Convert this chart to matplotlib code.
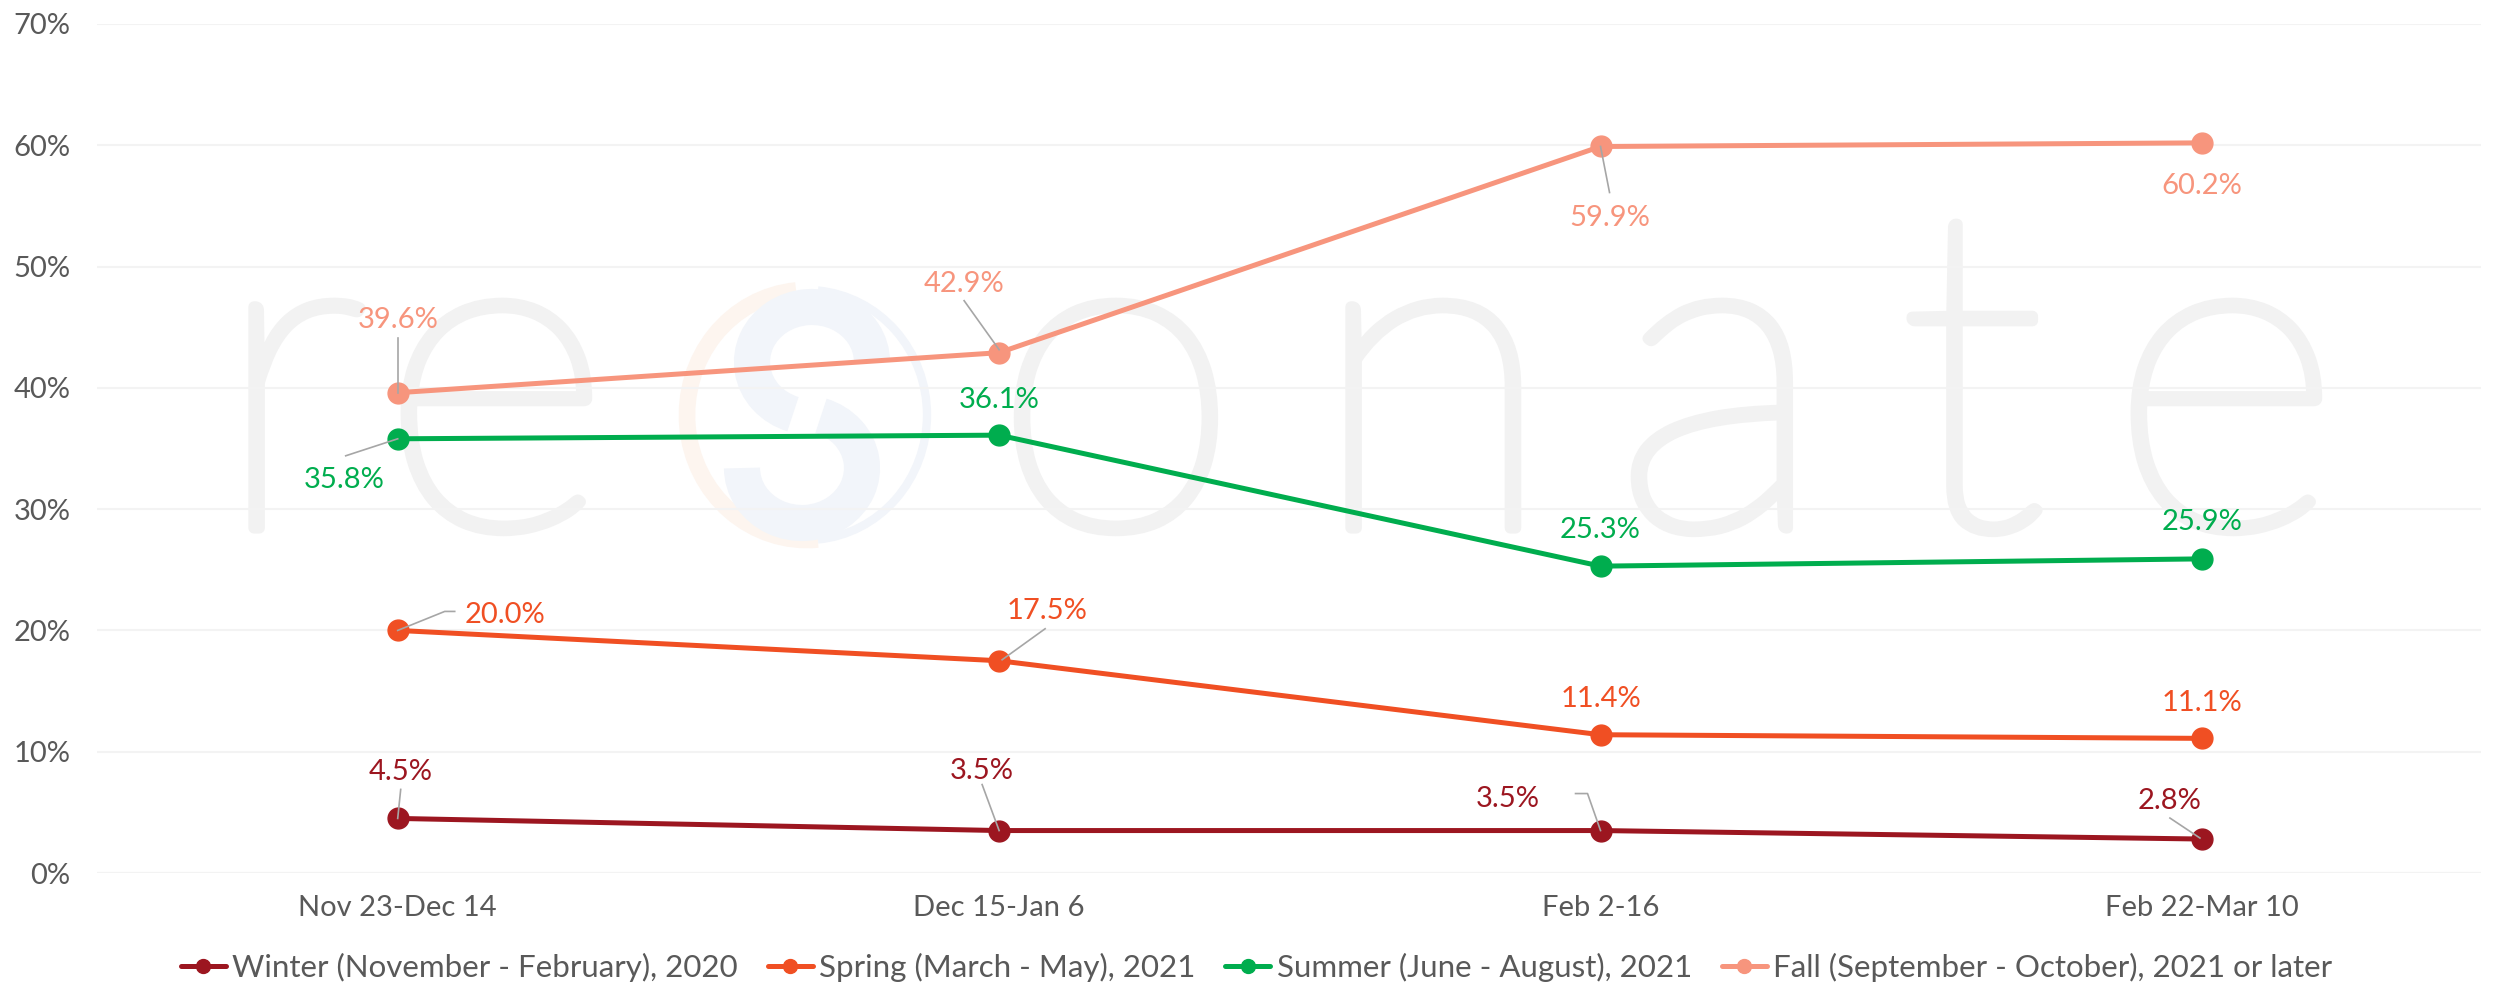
import matplotlib
matplotlib.use("Agg")
import matplotlib.pyplot as plt
import matplotlib.patheffects as pe
from matplotlib.lines import Line2D
from matplotlib.patches import Arc
from matplotlib.transforms import IdentityTransform

# ---------------- data ----------------
categories = ["Nov 23-Dec 14", "Dec 15-Jan 6", "Feb 2-16", "Feb 22-Mar 10"]
series_names = ["Winter (November - February), 2020",
                "Spring (March - May), 2021",
                "Summer (June - August), 2021",
                "Fall (September - October), 2021 or later"]
winter = [4.5, 3.5, 3.5, 2.8]
spring = [20.0, 17.5, 11.4, 11.1]
summer = [35.8, 36.1, 25.3, 25.9]
fall = [39.6, 42.9, 59.9, 60.2]
y_ticks = [0, 10, 20, 30, 40, 50, 60, 70]

# ---------------- styling ----------------
colors = ["#9c1620", "#f04f23", "#00ad4e", "#f7957d"]
# label centre offsets (px, y up) and leader polylines (px offsets from point)
label_offsets = [
    [(3, 49), (-17, 62), (-93, 34), (-32, 41)],
    [(107, 18), (48, 52), (0, 38), (0, 38)],
    [(-54, -39), (0, 38), (0, 39), (0, 39)],
    [(0, 75), (-35, 71), (9, -69), (0, -41)],
]
leaders = [
    [[(3, 29), (0, 0)], [(-17, 46), (0, 0)], [(-25, 37), (-13, 37), (0, 0)], [(-32, 21), (-2, 1)]],
    [[(0, 0), (47, 19), (57, 19)], [(46, 32), (3, 1)], None, None],
    [[(-52, -17), (0, 0)], None, None, None],
    [[(0, 55), (0, 0)], [(-35, 52), (0, 3)], [(0, 0), (9, -46)], None],
]

W, H, DPI = 2513, 982, 100
plt.rcParams["font.family"] = ["Lato", "DejaVu Sans"]
TXT = "#595959"

fig = plt.figure(figsize=(W / DPI, H / DPI), dpi=DPI)
fig.patch.set_facecolor("white")


def fx(px):
    return px / W


def fy(py):
    return 1 - py / H


# ---------------- watermark ----------------
WM = "#f2f2f2"
wm_fx = [pe.withStroke(linewidth=8, foreground=WM)]
for ch, cx in zip("re", [290, 495]):
    fig.text(fx(cx), fy(528), ch, fontsize=325, color=WM, ha="center",
             va="baseline", fontweight="light", zorder=-5, path_effects=wm_fx)
for ch, cx in zip("onate", [1116, 1432, 1720, 1972, 2225]):
    fig.text(fx(cx), fy(528), ch, fontsize=325, color=WM, ha="center",
             va="baseline", fontweight="light", zorder=-5, path_effects=wm_fx)
fig.add_artist(Arc((807, H - 415), 240, 250, theta1=95, theta2=275, lw=12,
                   color="#fdf5ef", transform=IdentityTransform(), zorder=-4))
fig.add_artist(Arc((807, H - 415), 240, 250, theta1=-85, theta2=85, lw=6,
                   color="#f2f5fa", transform=IdentityTransform(), zorder=-4))
fig.add_artist(Arc((812, H - 362), 120, 110, theta1=0, theta2=250, lw=26,
                   color="#f2f5fa", transform=IdentityTransform(), zorder=-4))
fig.add_artist(Arc((802, H - 468), 120, 110, theta1=180, theta2=430, lw=26,
                   color="#f2f5fa", transform=IdentityTransform(), zorder=-4))

# ---------------- axes ----------------
ax = fig.add_axes([fx(97), fy(873), (2481 - 97) / W, (873 - 24) / H])
ax.patch.set_alpha(0)
ax.set_xlim(-0.5, 3.464)
ax.set_ylim(0, 70)
for s in ax.spines.values():
    s.set_visible(False)
ax.set_yticks(y_ticks)
ax.set_yticklabels([f"{v}%" for v in y_ticks])
ax.set_xticks(range(len(categories)))
ax.set_xticklabels(categories)
ax.tick_params(axis="both", length=0, labelsize=21, labelcolor=TXT)
ax.tick_params(axis="y", pad=19)
ax.tick_params(axis="x", pad=16)
ax.grid(axis="y", color="#f3f3f3", lw=1.5, zorder=0)
ax.axhline(0, color="#dcdcdc", lw=2.2, zorder=1)

all_series = [winter, spring, summer, fall]
lines = []
for vals, c, name in zip(all_series, colors, series_names):
    ln, = ax.plot(range(len(categories)), vals, color=c, lw=3.6, marker="o",
                  ms=15, label=name, solid_capstyle="round", zorder=3)
    lines.append(ln)

# data labels
for si, (vals, c) in enumerate(zip(all_series, colors)):
    for i, v in enumerate(vals):
        dx, dy = label_offsets[si][i]
        ax.annotate(f"{v:.1f}%", xy=(i, v), xytext=(dx, dy - 10.5),
                    textcoords="offset pixels", ha="center", va="baseline",
                    fontsize=21, color=c, zorder=6)

# leader lines (pixel space)
fig.canvas.draw()
for si, vals in enumerate(all_series):
    for i, v in enumerate(vals):
        path = leaders[si][i]
        if path is None:
            continue
        px, py = ax.transData.transform((i, v))
        xs = [px + a for a, b in path]
        ys = [py + b for a, b in path]
        fig.add_artist(Line2D(xs, ys, transform=IdentityTransform(),
                              color="#a6a6a6", lw=1.2, zorder=5))

# legend
leg = fig.legend(handles=lines, loc="center", bbox_to_anchor=(0.5, fy(967)),
                 ncol=4, frameon=False, fontsize=22.5, handlelength=1.45,
                 handletextpad=0.2, columnspacing=0.95, labelcolor=TXT)
for h in leg.legend_handles:
    h.set_markersize(10)

fig.savefig("out.png", dpi=DPI)
